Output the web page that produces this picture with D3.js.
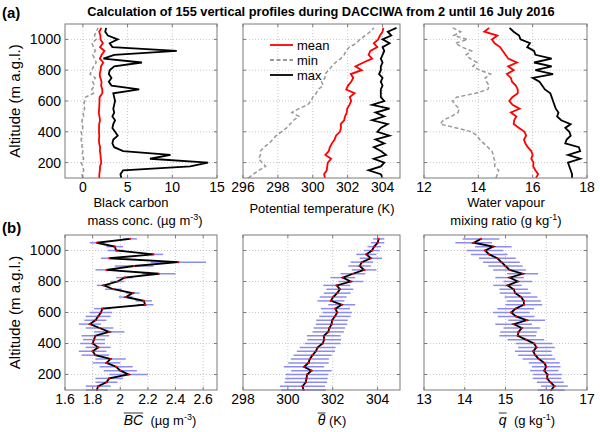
<!DOCTYPE html>
<html>
<head>
<meta charset="utf-8">
<script src="https://cdn.jsdelivr.net/npm/d3@7"></script>
<style>
  body { margin: 0; background: #fff; }
  text { font-family: "Liberation Sans", Arial, sans-serif; fill: #000; }
</style>
</head>
<body>
<script>
// altitude levels (m a.g.l.)
const alt = [100,125,150,175,200,225,250,275,300,325,350,375,400,425,450,475,500,525,550,575,
             600,625,650,675,700,725,750,775,800,825,850,875,900,925,950,975,1000,1025,1050,1075];

// black carbon mass conc. (ug m-3)
const bcMean = [1.83,1.84,1.90,1.92,2.06,2.00,1.97,1.90,1.93,1.82,1.80,1.84,1.80,1.81,1.82,1.92,1.85,1.78,1.82,1.84,
                1.86,1.87,2.18,2.17,2.04,2.09,1.95,1.88,1.98,2.03,2.28,1.90,2.10,2.42,1.92,2.24,1.97,1.96,1.83,2.07];
const bcErr  = [0.08,0.09,0.08,0.10,0.14,0.12,0.12,0.10,0.11,0.10,0.10,0.09,0.09,0.08,0.10,0.11,0.10,0.08,0.08,0.09,
                0.08,0.06,0.06,0.06,0.05,0.05,0.06,0.05,0.05,0.06,0.12,0.08,0.14,0.20,0.06,0.07,0.06,0.06,0.05,0.05];
const bcMin  = [0.0,-0.1,0.1,0.0,-0.2,0.1,-0.1,0.0,-0.1,-0.1,-0.2,-0.1,-0.2,0.0,-0.1,-0.1,0.1,0.0,0.2,0.1,
                0.2,0.3,1.2,1.0,1.3,1.1,1.4,0.8,1.0,1.2,1.5,1.3,1.1,1.4,1.2,1.0,1.5,1.3,1.5,1.7];
const bcMax  = [4.3,4.2,4.5,12.0,14.0,7.5,9.8,4.5,3.5,3.3,3.4,3.9,3.6,3.3,3.4,3.6,3.3,3.5,3.4,3.5,
                3.6,3.5,3.4,6.3,3.2,2.9,3.2,2.9,3.0,3.5,6.6,2.3,3.5,10.5,3.3,3.0,3.9,2.8,2.5,2.6];

// potential temperature (K)
const thMean = [300.70,300.65,300.80,300.83,300.86,301.05,300.72,300.92,300.98,301.10,301.25,301.33,301.55,301.62,301.60,301.80,301.85,301.95,301.97,302.10,
                302.20,302.12,302.40,301.92,302.02,302.20,302.32,302.18,302.80,302.45,302.90,303.40,303.20,303.30,303.70,303.50,303.75,303.85,304.00,304.05];
const thErr  = [1.0,1.0,0.95,0.95,0.95,0.9,0.9,0.9,0.85,0.85,0.85,0.8,0.8,0.75,0.75,0.7,0.7,0.7,0.7,0.7,
                0.65,0.65,0.6,0.6,0.6,0.6,0.6,0.6,0.55,0.55,0.55,0.55,0.5,0.5,0.5,0.45,0.35,0.3,0.3,0.25];
const thMin  = [296.3,296.6,296.9,297.3,297.1,296.9,297.0,297.0,297.2,297.5,297.7,297.9,298.2,298.5,298.7,298.9,299.2,298.8,299.2,299.7,
                299.9,300.0,300.2,300.3,300.6,300.5,300.7,300.7,300.9,301.1,301.3,301.6,301.8,301.9,302.1,302.5,302.7,303.0,303.3,303.5];
const thMax  = [304.0,303.9,303.2,303.9,304.1,303.5,304.2,303.9,303.5,304.1,303.6,304.4,303.7,303.9,304.3,303.4,304.1,303.6,304.4,303.4,
                304.1,303.9,303.9,303.9,304.0,303.9,304.0,303.8,303.9,303.9,304.0,303.9,304.0,304.1,304.0,304.4,304.0,304.5,304.3,304.8];

// water vapour mixing ratio (g kg-1)
const qMean = [16.12,16.20,16.10,16.02,16.03,15.95,16.00,15.95,15.82,15.73,15.68,15.76,15.70,15.50,15.30,15.32,15.40,15.20,15.52,15.26,
               15.14,15.25,15.45,15.45,15.38,15.24,15.20,15.05,15.30,15.10,15.42,15.10,15.00,14.90,14.80,14.60,14.50,14.70,14.22,14.40];
const qErr  = [0.33,0.33,0.33,0.35,0.35,0.35,0.35,0.38,0.40,0.42,0.45,0.45,0.45,0.45,0.45,0.45,0.45,0.45,0.45,0.45,
               0.45,0.45,0.45,0.42,0.40,0.38,0.35,0.35,0.35,0.35,0.38,0.40,0.42,0.45,0.45,0.45,0.45,0.45,0.45,0.45];
const qMin  = [14.65,14.70,14.75,14.60,14.62,14.58,14.55,14.50,14.35,14.20,14.05,13.95,13.75,13.20,12.60,12.70,13.00,13.25,13.30,13.15,
               13.05,13.20,13.90,14.35,14.40,14.30,14.25,14.45,14.05,13.80,13.95,13.70,13.55,13.75,13.40,13.15,13.60,13.10,13.35,13.05];
const qMax  = [17.45,17.45,17.40,17.35,17.30,17.75,17.30,17.75,17.70,17.20,17.25,17.40,17.35,17.20,17.40,17.05,16.90,16.95,16.85,16.80,
               16.75,16.70,16.65,16.45,16.35,16.25,16.00,16.75,16.10,16.70,16.05,16.70,16.10,16.05,15.80,15.90,15.55,15.50,15.30,15.15];

// axis ranges and ticks
const yTicks = [200, 400, 600, 800, 1000];
const topDomains = [[-2, 15], [296, 305], [12, 18]];
const topTicks = [[0, 5, 10, 15], [296, 298, 300, 302, 304], [12, 14, 16, 18]];
const botDomains = [[1.6, 2.7], [298, 305], [13, 17]];
const botTicks = [[1.6, 1.8, 2, 2.2, 2.4, 2.6], [298, 300, 302, 304], [13, 14, 15, 16, 17]];

const W = 600, H = 432;
const cols = [[65, 217], [243, 400], [424, 587]];
const rows = [[24, 178], [235, 390]];

const svg = d3.select("body").append("svg")
    .attr("width", W)
    .attr("height", H);

// build one subplot: returns scales and group
function makePanel(c, r, xDomain, xTicks, showY) {
    const x = d3.scaleLinear().domain(xDomain).range(cols[c]);
    const y = d3.scaleLinear().domain([100, 1100]).range([rows[r][1], rows[r][0]]);
    const g = svg.append("g");
    const [x0, x1] = cols[c], [y0, y1] = rows[r];

    // dotted grid
    g.selectAll(".gx").data(xTicks.filter(t => x(t) > x0 + 1 && x(t) < x1 - 1)).enter()
        .append("line")
        .attr("x1", d => x(d)).attr("x2", d => x(d))
        .attr("y1", y0).attr("y2", y1)
        .attr("stroke", "#c8c8c8").attr("stroke-dasharray", "1,2");
    g.selectAll(".gy").data(yTicks).enter()
        .append("line")
        .attr("y1", d => y(d)).attr("y2", d => y(d))
        .attr("x1", x0).attr("x2", x1)
        .attr("stroke", "#c8c8c8").attr("stroke-dasharray", "1,2");

    // x tick labels
    g.selectAll(".tx").data(xTicks).enter()
        .append("text")
        .attr("x", d => x(d)).attr("y", y1 + 14)
        .attr("text-anchor", "middle")
        .attr("font-size", 14)
        .text(d => d);

    if (showY) {
        g.selectAll(".ty").data(yTicks).enter()
            .append("text")
            .attr("x", x0 - 4).attr("y", d => y(d))
            .attr("dy", "0.35em")
            .attr("text-anchor", "end")
            .attr("font-size", 14)
            .text(d => d);
        g.append("text")
            .attr("transform", `translate(${x0 - 45},${(y0 + y1) / 2}) rotate(-90)`)
            .attr("text-anchor", "middle")
            .attr("font-size", 15)
            .text("Altitude (m a.g.l.)");
    }
    return {x, y, g, x0, x1, y0, y1, xTicks};
}

// frame with inward ticks, drawn on top of the data
function frame(p) {
    const g = p.g.append("g");
    g.append("rect")
        .attr("x", p.x0).attr("y", p.y0)
        .attr("width", p.x1 - p.x0).attr("height", p.y1 - p.y0)
        .attr("fill", "none").attr("stroke", "#7a7a7a");
    p.xTicks.forEach(t => {
        g.append("line").attr("x1", p.x(t)).attr("x2", p.x(t))
            .attr("y1", p.y1).attr("y2", p.y1 - 3).attr("stroke", "#7a7a7a");
        g.append("line").attr("x1", p.x(t)).attr("x2", p.x(t))
            .attr("y1", p.y0).attr("y2", p.y0 + 3).attr("stroke", "#7a7a7a");
    });
    yTicks.forEach(t => {
        g.append("line").attr("y1", p.y(t)).attr("y2", p.y(t))
            .attr("x1", p.x0).attr("x2", p.x0 + 3).attr("stroke", "#7a7a7a");
        g.append("line").attr("y1", p.y(t)).attr("y2", p.y(t))
            .attr("x1", p.x1).attr("x2", p.x1 - 3).attr("stroke", "#7a7a7a");
    });
}

function profile(p, values, color, width, dash) {
    const line = d3.line()
        .x((d, i) => p.x(d))
        .y((d, i) => p.y(alt[i]));
    p.g.append("path")
        .datum(values)
        .attr("d", line)
        .attr("fill", "none")
        .attr("stroke", color)
        .attr("stroke-width", width)
        .attr("stroke-dasharray", dash || null);
}

// ---- top row: mean / min / max ----
const topSeries = [[bcMean, bcMin, bcMax], [thMean, thMin, thMax], [qMean, qMin, qMax]];
topSeries.forEach((s, c) => {
    const p = makePanel(c, 0, topDomains[c], topTicks[c], c === 0);
    profile(p, s[1], "#999999", 1.5, "4,2.5");
    profile(p, s[2], "#000000", 1.8);
    profile(p, s[0], "#ff0000", 1.8);
    frame(p);
});

// legend in middle panel
const legend = [["mean", "#ff0000", null], ["min", "#999999", "4,2.5"], ["max", "#000000", null]];
legend.forEach((d, i) => {
    const ly = 45 + i * 15;
    svg.append("line").attr("x1", 270).attr("x2", 293).attr("y1", ly).attr("y2", ly)
        .attr("stroke", d[1]).attr("stroke-width", 1.8).attr("stroke-dasharray", d[2]);
    svg.append("text").attr("x", 297).attr("y", ly).attr("dy", "0.35em")
        .attr("font-size", 13).text(d[0]);
});

// ---- bottom row: mean with error bars ----
const botSeries = [[bcMean, bcErr], [thMean, thErr], [qMean, qErr]];
botSeries.forEach((s, c) => {
    const p = makePanel(c, 1, botDomains[c], botTicks[c], c === 0);
    p.g.selectAll(".eb").data(s[0]).enter()
        .append("line")
        .attr("x1", (d, i) => p.x(d - s[1][i]))
        .attr("x2", (d, i) => p.x(d + s[1][i]))
        .attr("y1", (d, i) => p.y(alt[i]))
        .attr("y2", (d, i) => p.y(alt[i]))
        .attr("stroke", "#8c8cf0")
        .attr("stroke-width", 1.5);
    profile(p, s[0], "#000000", 1.8);
    p.g.selectAll(".pt").data(s[0]).enter()
        .append("circle")
        .attr("cx", d => p.x(d))
        .attr("cy", (d, i) => p.y(alt[i]))
        .attr("r", 1.1)
        .attr("fill", "#ff0000");
    frame(p);
});

// ---- labels ----
svg.append("text").attr("x", 321).attr("y", 16).attr("text-anchor", "middle")
    .attr("font-size", 12.8).attr("font-weight", "bold")
    .text("Calculation of 155 vertical profiles during DACCIWA from 2 until 16 July 2016");
svg.append("text").attr("x", 2).attr("y", 18).attr("font-size", 15).attr("font-weight", "bold").text("(a)");
svg.append("text").attr("x", 2).attr("y", 233).attr("font-size", 15).attr("font-weight", "bold").text("(b)");

function supLabel(x, y, parts) {
    const t = svg.append("text").attr("x", x).attr("y", y)
        .attr("text-anchor", "middle").attr("font-size", 13);
    parts.forEach(pt => {
        if (pt.sup) {
            t.append("tspan").attr("font-size", 9).attr("dy", -5).text(pt.sup);
            t.append("tspan").attr("dy", 5).text(pt.after);
        } else {
            t.append("tspan").text(pt.text);
        }
    });
    return t;
}

supLabel(131, 207, [{text: "Black carbon"}]);
supLabel(145, 225, [{text: "mass conc. (µg m"}, {sup: "-3", after: ")"}]);
supLabel(322, 213, [{text: "Potential temperature (K)"}]);
supLabel(506, 207, [{text: "Water vapour"}]);
supLabel(506, 225, [{text: "mixing ratio (g kg"}, {sup: "-1", after: ")"}]);

// bottom labels with overlined math symbols
function mathLabel(cx, y, sym, rest, sup, after) {
    const g = svg.append("g");
    const s = g.append("text").attr("y", y)
        .attr("font-family", "'DejaVu Serif', 'Liberation Serif', serif")
        .attr("font-style", "italic").attr("font-size", 14).text(sym);
    const r = g.append("text").attr("y", y).attr("font-size", 13);
    r.append("tspan").text(rest);
    if (sup) {
        r.append("tspan").attr("font-size", 9).attr("dy", -5).text(sup);
        r.append("tspan").attr("dy", 5).text(after);
    }
    const ws = s.node().getComputedTextLength();
    const wr = r.node().getComputedTextLength();
    const left = cx - (ws + wr) / 2;
    s.attr("x", left);
    r.attr("x", left + ws);
    g.append("line").attr("x1", left).attr("x2", left + ws)
        .attr("y1", y - 12).attr("y2", y - 12)
        .attr("stroke", "#000").attr("stroke-width", 0.8);
}

mathLabel(160, 425, "BC", "\u00a0\u00a0(µg m", "-3", ")");
mathLabel(332, 425, "θ", "\u00a0(K)", null, null);
mathLabel(527, 425, "q", "\u00a0\u00a0(g kg", "-1", ")");
</script>
</body>
</html>
